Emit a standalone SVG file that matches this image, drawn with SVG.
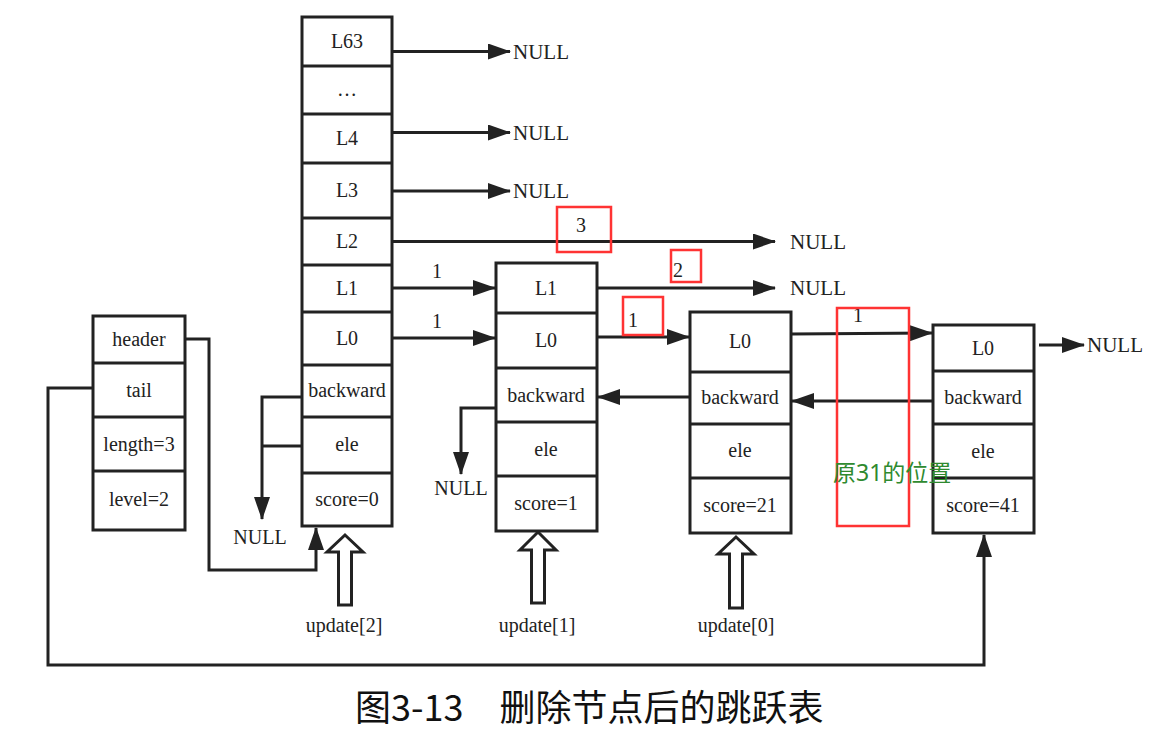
<svg xmlns="http://www.w3.org/2000/svg" width="1153" height="730" viewBox="0 0 1153 730">
<defs>
<style>
.box{fill:#fff;stroke:#222;stroke-width:3}
.div{stroke:#222;stroke-width:3}
.t{font-family:"Liberation Serif","Times New Roman",serif;font-size:20px;fill:#222;text-anchor:middle}
.tl{font-family:"Liberation Serif","Times New Roman",serif;font-size:21px;fill:#222}
.ln{fill:none;stroke:#222;stroke-width:3}
.red{fill:none;stroke:#f33;stroke-width:2.5}
.hollow{fill:#fff;stroke:#222;stroke-width:3;stroke-linejoin:miter}
</style>
<marker id="ah" markerUnits="userSpaceOnUse" viewBox="0 0 23 16" refX="22" refY="8" markerWidth="23" markerHeight="16" orient="auto">
<path d="M0,0 L23,8 L0,16 z" fill="#222"/>
</marker>
</defs>
<rect width="1153" height="730" fill="#fff"/>

<g id="list-header">
<rect class="box" x="93" y="316" width="92" height="214"/>
<line class="div" x1="93" y1="363" x2="185" y2="363"/>
<line class="div" x1="93" y1="417" x2="185" y2="417"/>
<line class="div" x1="93" y1="471" x2="185" y2="471"/>
<text class="t" x="139" y="346">header</text>
<text class="t" x="139" y="397">tail</text>
<text class="t" x="139" y="451" font-size="19">length=3</text>
<text class="t" x="139" y="506">level=2</text>
</g>

<g id="header-node">
<rect class="box" x="302" y="17" width="90" height="509"/>
<line class="div" x1="302" y1="66" x2="392" y2="66"/>
<line class="div" x1="302" y1="114" x2="392" y2="114"/>
<line class="div" x1="302" y1="163" x2="392" y2="163"/>
<line class="div" x1="302" y1="218" x2="392" y2="218"/>
<line class="div" x1="302" y1="265" x2="392" y2="265"/>
<line class="div" x1="302" y1="312" x2="392" y2="312"/>
<line class="div" x1="302" y1="365" x2="392" y2="365"/>
<line class="div" x1="302" y1="417" x2="392" y2="417"/>
<line class="div" x1="302" y1="473" x2="392" y2="473"/>
<text class="t" x="347" y="48">L63</text>
<text class="t" x="347" y="96">…</text>
<text class="t" x="347" y="145">L4</text>
<text class="t" x="347" y="197">L3</text>
<text class="t" x="347" y="248">L2</text>
<text class="t" x="347" y="295">L1</text>
<text class="t" x="347" y="345">L0</text>
<text class="t" x="347" y="397" font-size="18.5">backward</text>
<text class="t" x="347" y="506" font-size="18">score=0</text>
<text class="t" x="347" y="451">ele</text>
</g>

<g id="node-score1">
<rect class="box" x="496" y="263" width="101" height="268"/>
<line class="div" x1="496" y1="313" x2="597" y2="313"/>
<line class="div" x1="496" y1="368" x2="597" y2="368"/>
<line class="div" x1="496" y1="422" x2="597" y2="422"/>
<line class="div" x1="496" y1="476" x2="597" y2="476"/>
<text class="t" x="546" y="295">L1</text>
<text class="t" x="546" y="347">L0</text>
<text class="t" x="546" y="402" font-size="19">backward</text>
<text class="t" x="546" y="456">ele</text>
<text class="t" x="546" y="510" font-size="19">score=1</text>
</g>

<g id="node-score21">
<rect class="box" x="690" y="312" width="101" height="221"/>
<line class="div" x1="690" y1="372" x2="791" y2="372"/>
<line class="div" x1="690" y1="424" x2="791" y2="424"/>
<line class="div" x1="690" y1="478" x2="791" y2="478"/>
<text class="t" x="740" y="348">L0</text>
<text class="t" x="740" y="404" font-size="19">backward</text>
<text class="t" x="740" y="457">ele</text>
<text class="t" x="740" y="512" font-size="19">score=21</text>
</g>

<g id="node-score41">
<rect class="box" x="933" y="325" width="101" height="208"/>
<line class="div" x1="933" y1="371" x2="1034" y2="371"/>
<line class="div" x1="933" y1="424" x2="1034" y2="424"/>
<line class="div" x1="933" y1="478" x2="1034" y2="478"/>
<text class="t" x="983" y="355">L0</text>
<text class="t" x="983" y="404" font-size="19">backward</text>
<text class="t" x="983" y="458">ele</text>
<text class="t" x="983" y="512" font-size="19">score=41</text>
</g>

<g id="connectors">
<line class="ln" x1="392" y1="51.5" x2="510" y2="51.5" marker-end="url(#ah)"/>
<line class="ln" x1="392" y1="132.5" x2="510" y2="132.5" marker-end="url(#ah)"/>
<line class="ln" x1="392" y1="191" x2="510" y2="191" marker-end="url(#ah)"/>
<line class="ln" x1="392" y1="241.5" x2="775" y2="241.5" marker-end="url(#ah)"/>
<line class="ln" x1="392" y1="288" x2="495" y2="288" marker-end="url(#ah)"/>
<line class="ln" x1="392" y1="338" x2="495" y2="338" marker-end="url(#ah)"/>
<line class="ln" x1="597" y1="288" x2="775" y2="288" marker-end="url(#ah)"/>
<line class="ln" x1="597" y1="337" x2="689" y2="337" marker-end="url(#ah)"/>
<line class="ln" x1="791" y1="334" x2="932" y2="333" marker-end="url(#ah)"/>
<line class="ln" x1="1039" y1="345" x2="1084" y2="345" marker-end="url(#ah)"/>
<line class="ln" x1="933" y1="401" x2="792" y2="401" marker-end="url(#ah)"/>
<line class="ln" x1="690" y1="397" x2="598" y2="397" marker-end="url(#ah)"/>
<polyline class="ln" points="496,408 461,408 461,474" marker-end="url(#ah)"/>
<polyline class="ln" points="302,397 262,397 262,519" marker-end="url(#ah)"/>
<line class="ln" x1="302" y1="446" x2="262" y2="446"/>
<polyline class="ln" points="185,339 209,339 209,570 316,570 316,528" marker-end="url(#ah)"/>
<polyline class="ln" points="93,388 48,388 48,665 984,665 984,535" marker-end="url(#ah)"/>

<polygon class="hollow" points="345,535 363,552 351.5,552 351.5,605 338.5,605 338.5,552 327,552"/>
<polygon class="hollow" points="538,532 556,550 544.5,550 544.5,603 531.5,603 531.5,550 520,550"/>
<polygon class="hollow" points="736,537 754,554 742.5,554 742.5,608 729.5,608 729.5,554 718,554"/>

<text class="tl" x="513" y="59">NULL</text>
<text class="tl" x="513" y="140">NULL</text>
<text class="tl" x="513" y="198">NULL</text>
<text class="tl" x="790" y="249">NULL</text>
<text class="tl" x="790" y="295">NULL</text>
<text class="tl" x="1087" y="352">NULL</text>
<text class="t" x="461" y="495" font-size="21">NULL</text>
<text class="t" x="260" y="544" font-size="21">NULL</text>
<text class="t" x="437" y="278">1</text>
<text class="t" x="437" y="328">1</text>
<text class="t" x="633" y="327">1</text>
<text class="t" x="581" y="232">3</text>
<text class="t" x="678" y="277">2</text>
<text class="t" x="858" y="322">1</text>
<text class="t" x="344" y="632" font-size="21">update[2]</text>
<text class="t" x="537" y="632" font-size="21">update[1]</text>
<text class="t" x="736" y="632" font-size="21">update[0]</text>
</g>

<g id="annotations">
<rect class="red" x="557" y="207" width="54" height="45"/>
<rect class="red" x="671" y="250" width="30" height="32"/>
<rect class="red" x="623" y="297" width="40" height="38"/>
<rect class="red" x="837" y="308" width="72" height="218"/>
<text x="833" y="481" font-family="'Noto Sans','Noto Sans CJK SC',sans-serif" font-size="23" fill="#2f8a2f">原31的位置</text>
</g>

<text x="355" y="721" font-family="'Noto Sans CJK SC','Noto Sans',sans-serif" font-size="36" fill="#111">图3-13　删除节点后的跳跃表</text>
</svg>
